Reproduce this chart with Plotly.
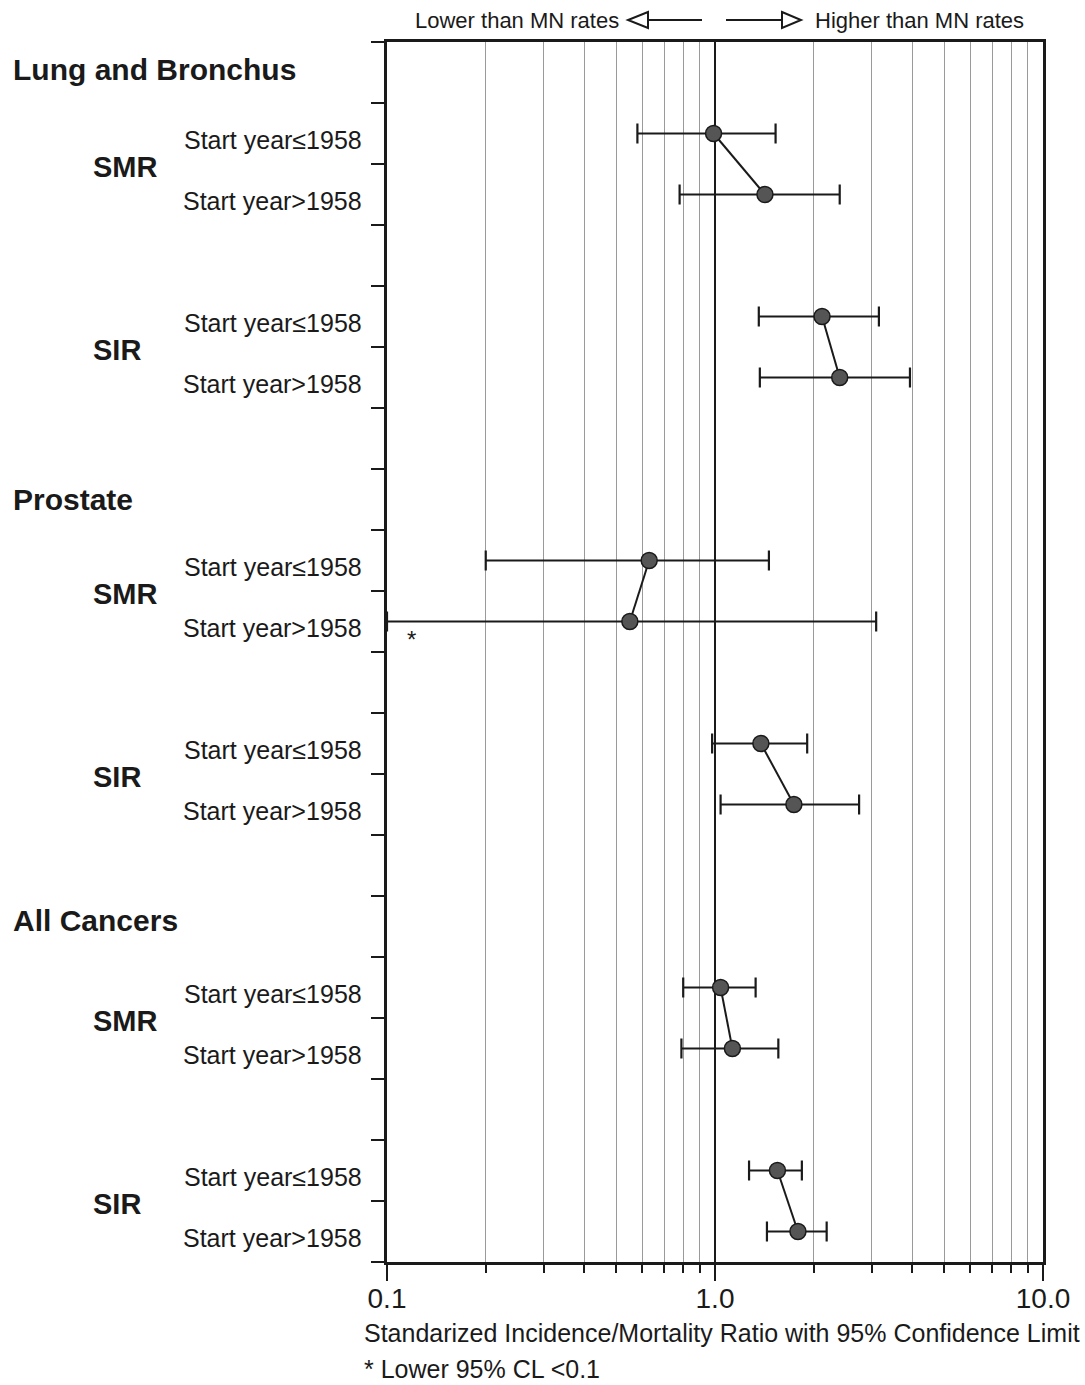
import plotly.graph_objects as go

# Cancer sites, measures and follow-up periods
sites = ["Lung and Bronchus", "Prostate", "All Cancers"]
measures = ["SMR", "SIR"]
periods = ["Start year\u22641958", "Start year>1958"]

# One value per row, top to bottom (site -> measure -> period)
ratio = [0.99, 1.42, 2.12, 2.40, 0.63, 0.55, 1.38, 1.74, 1.04, 1.13, 1.55, 1.79]
lower = [0.58, 0.78, 1.36, 1.37, 0.20, None, 0.98, 1.04, 0.80, 0.79, 1.27, 1.44]
upper = [1.53, 2.40, 3.16, 3.93, 1.46, 3.10, 1.91, 2.75, 1.33, 1.56, 1.84, 2.19]

# Vertical layout slots for the rows (axis runs 0..20)
row_y = [18.5, 17.5, 15.5, 14.5, 11.5, 10.5, 8.5, 7.5, 4.5, 3.5, 1.5, 0.5]
site_label_y = [19.55, 12.5, 5.6]

x_floor = 0.1  # left end of the log axis; lower limits below it are cut off here

FONT = "Liberation Sans, Arial, Helvetica, sans-serif"
INK = "#1a1a1a"

fig = go.Figure()

for k in range(len(row_y) // 2):
    idx = [2 * k, 2 * k + 1]
    xs = [ratio[i] for i in idx]
    ys = [row_y[i] for i in idx]
    lo = [(lower[i] if lower[i] is not None else x_floor) for i in idx]
    hi = [upper[i] for i in idx]
    fig.add_trace(go.Scatter(
        x=xs, y=ys,
        mode="lines+markers",
        line=dict(color=INK, width=2),
        marker=dict(size=16, color="#555555", line=dict(color=INK, width=1.5)),
        error_x=dict(
            type="data", symmetric=False,
            array=[h - x for h, x in zip(hi, xs)],
            arrayminus=[x - l for x, l in zip(xs, lo)],
            color=INK, thickness=2.2, width=10,
        ),
        showlegend=False,
        hoverinfo="skip",
        cliponaxis=True,
    ))

annotations = []

# Period labels at each row
for i, y in enumerate(row_y):
    annotations.append(dict(
        x=0, xref="paper", y=y, yref="y", xanchor="right", yanchor="middle",
        xshift=-23, yshift=-6, text=periods[i % 2], showarrow=False,
        font=dict(family=FONT, size=25, color=INK),
    ))

# Measure labels (SMR / SIR) centred on each pair
for k in range(len(row_y) // 2):
    y_mid = (row_y[2 * k] + row_y[2 * k + 1]) / 2
    annotations.append(dict(
        x=0, xref="paper", y=y_mid, yref="y", xanchor="left", yanchor="middle",
        xshift=-296, yshift=-3, text="<b>%s</b>" % measures[k % 2], showarrow=False,
        font=dict(family=FONT, size=29, color=INK),
    ))

# Site headings
for s, y in zip(sites, site_label_y):
    annotations.append(dict(
        x=0, xref="paper", y=y, yref="y", xanchor="left", yanchor="middle",
        xshift=-376, text="<b>%s</b>" % s, showarrow=False,
        font=dict(family=FONT, size=30, color=INK),
    ))

# Marker for the censored lower limit
annotations.append(dict(
    x=-0.925, xref="x", y=10.2, yref="y", text="*", showarrow=False,
    font=dict(family=FONT, size=24, color=INK),
))

# Direction captions above the plot
annotations.append(dict(
    x=0.357, xref="paper", y=1.018, yref="paper", xanchor="right", yanchor="middle",
    text="Lower than MN rates", showarrow=False, font=dict(family=FONT, size=22, color=INK),
))
annotations.append(dict(
    x=0.650, xref="paper", y=1.018, yref="paper", xanchor="left", yanchor="middle",
    text="Higher than MN rates", showarrow=False, font=dict(family=FONT, size=22, color=INK),
))

# Axis title and footnote
annotations.append(dict(
    x=0, xref="paper", y=0, yref="paper", xanchor="left", yanchor="middle",
    xshift=-25, yshift=-71, text="Standarized Incidence/Mortality Ratio with 95% Confidence Limit",
    showarrow=False, font=dict(family=FONT, size=25, color=INK),
))
annotations.append(dict(
    x=0, xref="paper", y=0, yref="paper", xanchor="left", yanchor="middle",
    xshift=-25, yshift=-107, text="* Lower 95% CL &lt;0.1",
    showarrow=False, font=dict(family=FONT, size=25, color=INK),
))

# Open-headed arrows next to the captions (paper coordinates)
W, H = 656.0, 1220.0
def px(xp):
    return (xp - 387) / W
def py(yp):
    return 1 + (42 - yp) / H

shapes = [
    dict(type="path", xref="paper", yref="paper",
         path="M %f,%f L %f,%f L %f,%f Z" % (px(648), py(12), px(628), py(20), px(648), py(28)),
         line=dict(color=INK, width=2), fillcolor="white"),
    dict(type="line", xref="paper", yref="paper", x0=px(648), x1=px(702), y0=py(20), y1=py(20),
         line=dict(color=INK, width=2)),
    dict(type="line", xref="paper", yref="paper", x0=px(726), x1=px(782), y0=py(20), y1=py(20),
         line=dict(color=INK, width=2)),
    dict(type="path", xref="paper", yref="paper",
         path="M %f,%f L %f,%f L %f,%f Z" % (px(782), py(12), px(801), py(20), px(782), py(28)),
         line=dict(color=INK, width=2), fillcolor="white"),
]

fig.update_layout(
    width=1085, height=1385,
    margin=dict(l=387, r=42, t=42, b=123),
    paper_bgcolor="white", plot_bgcolor="white",
    font=dict(family=FONT, color=INK),
    annotations=annotations,
    shapes=shapes,
    xaxis=dict(
        type="log", range=[-1, 1],
        tickvals=[0.1, 1, 10], ticktext=["0.1", "1.0", "10.0"],
        ticks="outside", ticklen=16, tickwidth=2, tickcolor=INK,
        ticklabelstandoff=-6,
        tickfont=dict(family=FONT, size=28, color=INK),
        showgrid=True, gridcolor=INK, gridwidth=2,
        minor=dict(
            tickvals=[0.2, 0.3, 0.4, 0.5, 0.6, 0.7, 0.8, 0.9, 2, 3, 4, 5, 6, 7, 8, 9],
            ticks="outside", ticklen=8, tickwidth=1.5, tickcolor=INK,
            showgrid=True, gridcolor="#9a9a9a", gridwidth=1.3,
        ),
        showline=True, linecolor=INK, linewidth=2.5, mirror=True,
        zeroline=False, fixedrange=True,
    ),
    yaxis=dict(
        range=[0, 20], tickvals=list(range(0, 21)),
        ticks="outside", ticklen=13, tickwidth=2, tickcolor=INK,
        showticklabels=False, showgrid=False, zeroline=False,
        showline=True, linecolor=INK, linewidth=2.5, mirror=True,
        fixedrange=True,
    ),
)

fig.write_html("out.html")
